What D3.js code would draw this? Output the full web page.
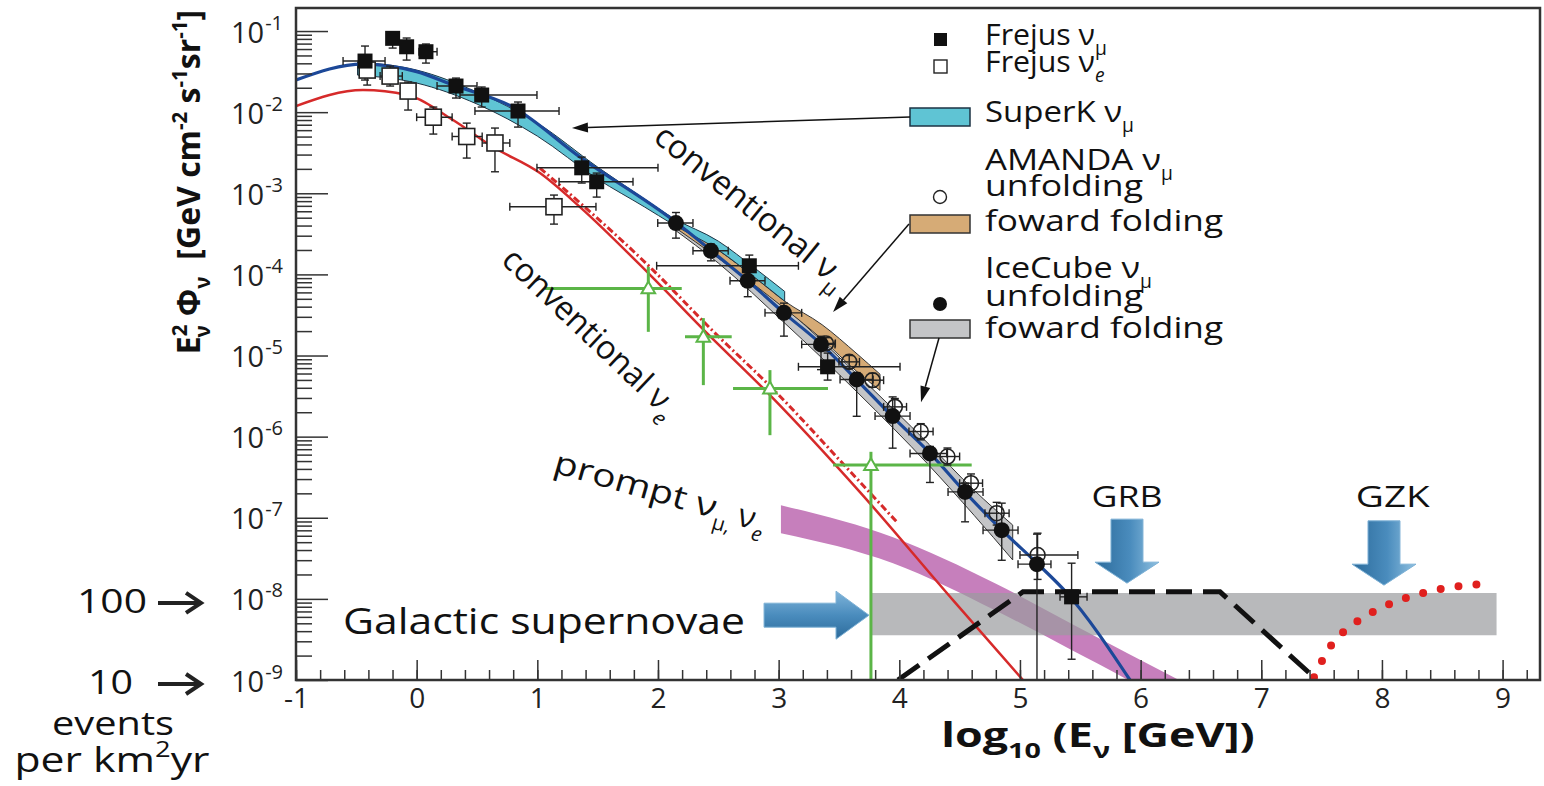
<!DOCTYPE html>
<html>
<head>
<meta charset="utf-8">
<script src="https://cdn.jsdelivr.net/npm/d3@7"></script>
<style>
body { margin: 0; background: #fff; }
svg { font-family: "Open Sans", "Noto Sans", sans-serif; }
</style>
</head>
<body>
<svg id="chart" width="1544" height="786"></svg>
<script>
// all values are log10(E/GeV) and log10(E^2 flux)

var xTicks = [-1, 0, 1, 2, 3, 4, 5, 6, 7, 8, 9];
var yTicks = [-9, -8, -7, -6, -5, -4, -3, -2, -1];

// conventional nu_mu (blue line)
var numuE = [-1, -0.445, 0.0, 0.301, 0.798, 1.354, 2.124, 2.456, 2.738, 3.036, 3.343, 3.649, 3.948, 4.254, 4.545, 4.851, 5.141, 5.390, 5.912];
var numuF = [-1.604, -1.407, -1.500, -1.666, -1.937, -2.554, -3.330, -3.725, -4.070, -4.465, -4.847, -5.303, -5.760, -6.203, -6.684, -7.153, -7.560, -7.930, -9.0];

// conventional nu_e (red line)
var nueE = [-1, -0.445, -0.08, 0.301, 0.633, 1.022, 1.354, 1.934, 2.406, 2.928, 3.674, 4.445, 5.025];
var nueF = [-1.925, -1.727, -1.789, -2.097, -2.430, -2.751, -3.170, -4.006, -4.724, -5.488, -6.684, -8.016, -9.0];

// red dash-dot companion line
var nueAltE = [1.022, 1.959, 2.456, 2.953, 3.567, 3.989];
var nueAltF = [-2.689, -3.947, -4.699, -5.414, -6.388, -7.067];

// bands: [logE, low, high]
var superK = [[-0.49, -1.543, -1.382], [0.0, -1.641, -1.481], [0.5, -1.900, -1.752], [1.0, -2.295, -2.134],
  [1.5, -2.825, -2.677], [1.89, -3.170, -3.072], [2.12, -3.380, -3.300], [2.5, -3.700, -3.590],
  [2.8, -4.035, -3.920], [3.05, -4.330, -4.210]];
var amandaFF = [[2.12, -3.40, -3.33], [2.5, -3.80, -3.70], [2.8, -4.13, -4.035], [3.05, -4.42, -4.33],
  [3.36, -4.80, -4.62], [3.65, -5.20, -4.98], [3.84, -5.43, -5.23]];
var icecubeFF = [[2.12, -3.43, -3.33], [2.5, -3.86, -3.70], [3.05, -4.60, -4.40], [3.65, -5.45, -5.23],
  [4.25, -6.36, -6.10], [4.62, -6.97, -6.66], [4.94, -7.52, -7.09]];
var prompt = [[3.019, -7.190, -6.845], [3.948, -7.560, -7.239], [4.793, -8.140, -7.806],
  [5.431, -8.633, -8.309], [5.895, -9.0, -8.672], [6.318, -9.4, -9.0]];
var galactic = [[3.77, -8.447, -7.926], [8.95, -8.447, -7.926]];

// points: [logE, logF, Elow, Ehigh, Flow, Fhigh]
var frejusMu = [[-0.428, -1.370, -0.610, -0.262, -1.604, -1.185], [-0.199, -1.090, null, null, -1.210, -1.012],
  [-0.083, -1.194, null, null, -1.358, -1.086], [0.077, -1.255, 0.019, 0.169, -1.395, -1.160],
  [0.326, -1.678, 0.169, 0.500, -1.826, -1.580], [0.539, -1.789, 0.359, 0.997, -1.937, -1.690],
  [0.840, -1.986, 0.483, 1.180, -2.184, -1.875], [1.368, -2.686, 0.997, 2.0, -2.874, -2.554],
  [1.492, -2.858, 1.180, 1.793, -3.047, -2.751], [2.757, -3.894, 1.989, 3.164, -4.033, -3.762],
  [3.406, -5.139, 3.164, 4.006, -5.303, -4.970], [5.428, -7.975, 5.332, 5.556, -8.744, -7.560]];
var frejusE = [[-0.410, -1.481, null, null, -1.666, -1.357], [-0.220, -1.555, -0.303, -0.119, -1.678, -1.432],
  [-0.071, -1.740, null, null, -1.974, -1.629], [0.138, -2.062, 0.0, 0.294, -2.270, -1.937],
  [0.415, -2.300, 0.294, 0.543, -2.566, -2.135], [0.649, -2.380, 0.543, 0.772, -2.735, -2.196],
  [1.138, -3.166, 0.772, 1.486, -3.380, -3.022]];
var amandaUnf = [[3.392, -4.851, 3.32, 3.47, -4.93, -4.78], [3.585, -5.078, 3.50, 3.67, -5.16, -5.00],
  [3.778, -5.304, 3.69, 3.87, -5.39, -5.22], [3.963, -5.633, 3.87, 4.06, -5.74, -5.53],
  [4.178, -5.937, 4.08, 4.28, -6.04, -5.84], [4.399, -6.245, 4.30, 4.50, -6.35, -6.14],
  [4.594, -6.574, 4.50, 4.69, -6.69, -6.46], [4.807, -6.944, 4.71, 4.91, -7.09, -6.81],
  [5.146, -7.460, 5.00, 5.48, -7.76, -7.19]];
var icecubeUnf = [[2.149, -3.367, 1.998, 2.290, -3.553, -3.237], [2.439, -3.709, 2.290, 2.582, -3.833, -3.627],
  [2.744, -4.079, 2.597, 2.887, -4.275, -4.008], [3.044, -4.474, 2.887, 3.191, -4.761, -4.354],
  [3.351, -4.863, 3.191, 3.467, -5.174, -4.763], [3.647, -5.295, 3.509, 3.783, -5.749, -5.211],
  [3.945, -5.747, 3.799, 4.089, -6.142, -5.510], [4.254, -6.207, 4.089, 4.393, -6.565, -6.121],
  [4.545, -6.681, 4.404, 4.694, -7.050, -6.573], [4.849, -7.153, 4.694, 4.984, -7.524, -6.820],
  [5.141, -7.572, 4.984, 5.257, -9.0, -7.202]];
var greenNue = [[1.920, -4.173, 1.064, 2.197, -4.708, -3.906], [2.376, -4.769, 2.224, 2.611, -5.365, -4.539],
  [2.928, -5.406, 2.622, 3.409, -5.982, -5.180], [3.765, -6.351, 3.451, 4.600, -9.0, -6.187]];

// GRB (black dashed) and GZK (red dotted)
var grbE = [3.989, 5.025, 6.658, 7.437];
var grbF = [-9.0, -7.913, -7.913, -8.966];
var gzkE = [7.437, 7.570, 7.775, 8.029, 8.324, 8.639, 8.805];
var gzkF = [-8.966, -8.592, -8.300, -8.086, -7.933, -7.843, -7.822];

var svg = d3.select("#chart");
var x = d3.scaleLinear().domain([-1, 9.31]).range([296, 1540]);
var y = d3.scaleLinear().domain([-9, -0.716]).range([680, 8]);

var defs = svg.append("defs");
defs.append("clipPath").attr("id", "plot")
  .append("rect").attr("x", 296).attr("y", 8).attr("width", 1244).attr("height", 672);
var gv = defs.append("linearGradient").attr("id", "gv").attr("x1", 0).attr("x2", 1).attr("y1", 0).attr("y2", 0);
gv.append("stop").attr("offset", "0").attr("stop-color", "#2c6b9b");
gv.append("stop").attr("offset", "0.55").attr("stop-color", "#4a8cbd");
gv.append("stop").attr("offset", "1").attr("stop-color", "#8fc0e0");
var gh = defs.append("linearGradient").attr("id", "gh").attr("x1", 0).attr("x2", 0).attr("y1", 0).attr("y2", 1);
gh.append("stop").attr("offset", "0").attr("stop-color", "#7fb4da");
gh.append("stop").attr("offset", "0.5").attr("stop-color", "#4a8cbd");
gh.append("stop").attr("offset", "1").attr("stop-color", "#2c6b9b");

var plot = svg.append("g").attr("clip-path", "url(#plot)");

var area = d3.area().x(function(d) { return x(d[0]); })
  .y0(function(d) { return y(d[1]); }).y1(function(d) { return y(d[2]); })
  .curve(d3.curveMonotoneX);
var line = d3.line().x(function(d) { return x(d[0]); }).y(function(d) { return y(d[1]); })
  .curve(d3.curveMonotoneX);

// prompt band then galactic supernovae band
plot.append("path").attr("d", area(prompt)).attr("fill", "#c67fbc");
plot.append("path").attr("d", area.curve(d3.curveLinear)(galactic)).attr("fill", "#9a9b9e").attr("opacity", 0.7);
area.curve(d3.curveMonotoneX);

// measured bands
plot.append("path").attr("d", area(icecubeFF)).attr("fill", "#c4c5c7").attr("stroke", "#333").attr("stroke-width", 1);
plot.append("path").attr("d", area(amandaFF)).attr("fill", "#d6ab76").attr("stroke", "#333").attr("stroke-width", 1);
plot.append("path").attr("d", area(superK)).attr("fill", "#5fc4d4").attr("stroke", "#1d3344").attr("stroke-width", 1);

// model curves
plot.append("path").attr("d", line(d3.zip(nueAltE, nueAltF))).attr("fill", "none")
  .attr("stroke", "#d62a2a").attr("stroke-width", 3).attr("stroke-dasharray", "7,3,2,3");
plot.append("path").attr("d", line(d3.zip(nueE, nueF))).attr("fill", "none")
  .attr("stroke", "#d62a2a").attr("stroke-width", 2.5);
plot.append("path").attr("d", line(d3.zip(numuE, numuF))).attr("fill", "none")
  .attr("stroke", "#1c4898").attr("stroke-width", 3.2);

plot.append("path").attr("d", d3.line().x(function(d) { return x(d[0]); }).y(function(d) { return y(d[1]); })(d3.zip(grbE, grbF)))
  .attr("fill", "none").attr("stroke", "#111").attr("stroke-width", 5).attr("stroke-dasharray", "26,11");
plot.append("path").attr("d", line(d3.zip(gzkE, gzkF))).attr("fill", "none")
  .attr("stroke", "#e0201e").attr("stroke-width", 8).attr("stroke-linecap", "round").attr("stroke-dasharray", "0,18");

// error bars
function errBars(g, data, color, width, cap) {
  data.forEach(function(d) {
    if (d[2] != null) {
      g.append("line").attr("x1", x(d[2])).attr("x2", x(d[3])).attr("y1", y(d[1])).attr("y2", y(d[1]))
        .attr("stroke", color).attr("stroke-width", width);
      [d[2], d[3]].forEach(function(v) {
        g.append("line").attr("x1", x(v)).attr("x2", x(v)).attr("y1", y(d[1]) - cap).attr("y2", y(d[1]) + cap)
          .attr("stroke", color).attr("stroke-width", width);
      });
    }
    if (d[4] != null) {
      g.append("line").attr("x1", x(d[0])).attr("x2", x(d[0])).attr("y1", y(d[4])).attr("y2", y(d[5]))
        .attr("stroke", color).attr("stroke-width", width);
      [d[4], d[5]].forEach(function(v) {
        g.append("line").attr("x1", x(d[0]) - cap).attr("x2", x(d[0]) + cap).attr("y1", y(v)).attr("y2", y(v))
          .attr("stroke", color).attr("stroke-width", width);
      });
    }
  });
}
var eb = plot.append("g");
errBars(eb, greenNue, "#5bb547", 3, 0);
errBars(eb, frejusE, "#222", 1.4, 4);
errBars(eb, frejusMu, "#222", 1.4, 4);
errBars(eb, amandaUnf, "#222", 1.4, 4);
errBars(eb, icecubeUnf, "#222", 1.4, 4);

var sym = d3.symbol();
plot.selectAll(".tri").data(greenNue).enter().append("path")
  .attr("d", sym.type(d3.symbolTriangle).size(80)())
  .attr("transform", function(d) { return "translate(" + x(d[0]) + "," + (y(d[1]) + 1) + ")"; })
  .attr("fill", "#fff").attr("stroke", "#5bb547").attr("stroke-width", 2);
plot.selectAll(".fe").data(frejusE).enter().append("rect")
  .attr("x", function(d) { return x(d[0]) - 8; }).attr("y", function(d) { return y(d[1]) - 8; })
  .attr("width", 16).attr("height", 16).attr("fill", "#fff").attr("stroke", "#222").attr("stroke-width", 1.6);
plot.selectAll(".fm").data(frejusMu).enter().append("rect")
  .attr("x", function(d) { return x(d[0]) - 7.5; }).attr("y", function(d) { return y(d[1]) - 7.5; })
  .attr("width", 15).attr("height", 15).attr("fill", "#111");
plot.selectAll(".au").data(amandaUnf).enter().append("circle")
  .attr("cx", function(d) { return x(d[0]); }).attr("cy", function(d) { return y(d[1]); })
  .attr("r", 7.5).attr("fill", "none").attr("stroke", "#222").attr("stroke-width", 1.6);
plot.selectAll(".iu").data(icecubeUnf).enter().append("circle")
  .attr("cx", function(d) { return x(d[0]); }).attr("cy", function(d) { return y(d[1]); })
  .attr("r", 8).attr("fill", "#111");

// frame and axes
svg.append("rect").attr("x", 296).attr("y", 8).attr("width", 1244).attr("height", 672)
  .attr("fill", "none").attr("stroke", "#333").attr("stroke-width", 2.5);

var yMinor = [];
yTicks.slice(0, 8).forEach(function(n) { for (var k = 2; k < 10; k++) yMinor.push(n + Math.log10(k)); });
var xMinor = d3.range(0, 52).map(function(i) { return -1 + i * 0.2; }).filter(function(v) { return v < 9.3; });

var axY = svg.append("g").attr("transform", "translate(296,0)")
  .call(d3.axisLeft(y).tickValues(yTicks).tickSizeInner(-32).tickSizeOuter(0).tickPadding(13));
svg.append("g").attr("transform", "translate(296,0)")
  .call(d3.axisLeft(y).tickValues(yMinor).tickSizeInner(-16).tickSizeOuter(0).tickFormat(""));
var axX = svg.append("g").attr("transform", "translate(0,680)")
  .call(d3.axisBottom(x).tickValues(xTicks).tickSizeInner(-20).tickSizeOuter(0).tickPadding(8));
svg.append("g").attr("transform", "translate(0,680)")
  .call(d3.axisBottom(x).tickValues(xMinor).tickSizeInner(-10).tickSizeOuter(0).tickFormat(""));
svg.selectAll(".domain").remove();
svg.selectAll(".tick line").attr("stroke", "#333").attr("stroke-width", 1.5);

axY.selectAll("text").each(function(d) {
  var t = d3.select(this).attr("dy", 11).attr("font-size", 29).attr("fill", "#222")
    .attr("font-family", "'Open Sans', sans-serif").text(null);
  t.append("tspan").text("10");
  t.append("tspan").attr("dy", -13).attr("font-size", 20).attr("dx", 1).text(String(d));
});
axX.selectAll("text").attr("font-size", 28).attr("fill", "#222").attr("font-family", "'Open Sans', sans-serif")
  .text(function(d) { return String(d); });

// rich text helper: parts are [text, "n"|"sup"|"sub", dx, style, length]
function rich(t, parts, base) {
  var cur = 0;
  parts.forEach(function(p) {
    var off = p[1] === "sup" ? -base * 0.42 : p[1] === "sub" ? base * 0.32 : 0;
    var s = t.append("tspan").attr("dy", off - cur).text(p[0]);
    if (p[1] !== "n") s.attr("font-size", base * 0.64);
    if (p[2]) s.attr("dx", p[2]);
    if (p[3]) s.attr("font-style", p[3]);
    if (p[4]) s.attr("textLength", p[4]).attr("lengthAdjust", "spacingAndGlyphs");
    cur = off;
  });
  return t;
}

// axis titles
rich(svg.append("text").attr("transform", "translate(200,182) rotate(-90)").attr("text-anchor", "middle")
  .attr("font-size", 32).attr("font-weight", "bold").attr("fill", "#111"),
  [["E", "n"], ["2", "sup"], ["ν", "sub", -13], ["Φ", "n", 9], ["ν", "sub"], ["[GeV cm", "n", 17], ["-2", "sup"],
   [" s", "n"], ["-1", "sup"], ["sr", "n"], ["-1", "sup"], ["]", "n"]], 32);
rich(svg.append("text").attr("transform", "translate(1098,747) scale(1.32,1)").attr("text-anchor", "middle")
  .attr("font-size", 34).attr("font-weight", "bold").attr("fill", "#111"),
  [["log", "n"], ["10", "sub"], [" (E", "n"], ["ν", "sub"], [" [GeV])", "n"]], 34);

// left annotations
function leftArrow(yy) {
  svg.append("line").attr("x1", 158).attr("x2", 199).attr("y1", yy).attr("y2", yy)
    .attr("stroke", "#222").attr("stroke-width", 4);
  svg.append("path").attr("d", "M186," + (yy - 10) + " L201," + yy + " L186," + (yy + 10))
    .attr("fill", "none").attr("stroke", "#222").attr("stroke-width", 4).attr("stroke-linejoin", "miter");
}
leftArrow(y(-8) + 4);
leftArrow(y(-9) + 4);
svg.append("text").attr("x", 147).attr("y", y(-8) + 14).attr("text-anchor", "end").attr("font-size", 33)
  .attr("fill", "#111").attr("textLength", 70).attr("lengthAdjust", "spacingAndGlyphs").text("100");
svg.append("text").attr("x", 133).attr("y", y(-9) + 14).attr("text-anchor", "end").attr("font-size", 33)
  .attr("fill", "#111").attr("textLength", 45).attr("lengthAdjust", "spacingAndGlyphs").text("10");
svg.append("text").attr("x", 113).attr("y", 735).attr("text-anchor", "middle").attr("font-size", 33)
  .attr("fill", "#111").attr("textLength", 122).attr("lengthAdjust", "spacingAndGlyphs").text("events");
rich(svg.append("text").attr("transform", "translate(112,772) scale(1.22,1)").attr("text-anchor", "middle")
  .attr("font-size", 35).attr("fill", "#111"), [["per km", "n"], ["2", "sup"], ["yr", "n"]], 35);

// legend
var lx = 985;
svg.append("rect").attr("x", 934).attr("y", 33).attr("width", 13).attr("height", 13).attr("fill", "#111");
svg.append("rect").attr("x", 934).attr("y", 60).attr("width", 13).attr("height", 13)
  .attr("fill", "#fff").attr("stroke", "#222").attr("stroke-width", 1.4);
svg.append("rect").attr("x", 910).attr("y", 108).attr("width", 60).attr("height", 18)
  .attr("fill", "#5fc4d4").attr("stroke", "#1d3344").attr("stroke-width", 1.5);
svg.append("circle").attr("cx", 940).attr("cy", 197).attr("r", 6.5).attr("fill", "#fff").attr("stroke", "#222").attr("stroke-width", 1.4);
svg.append("rect").attr("x", 910).attr("y", 215).attr("width", 60).attr("height", 18)
  .attr("fill", "#d6ab76").attr("stroke", "#333").attr("stroke-width", 1.5);
svg.append("circle").attr("cx", 940).attr("cy", 304).attr("r", 7).attr("fill", "#111");
svg.append("rect").attr("x", 910).attr("y", 320).attr("width", 60).attr("height", 18)
  .attr("fill", "#c4c5c7").attr("stroke", "#333").attr("stroke-width", 1.5);

var legendText = [
  [45, [["Frejus ν", "n", 0, null, 110], ["μ", "sub"]]],
  [72, [["Frejus ν", "n", 0, null, 110], ["e", "sub", 0, "italic"]]],
  [122, [["SuperK ν", "n", 0, null, 137], ["μ", "sub"]]],
  [170, [["AMANDA ν", "n", 0, null, 176], ["μ", "sub"]]],
  [196, [["unfolding", "n", 0, null, 158]]],
  [231, [["foward folding", "n", 0, null, 238]]],
  [278, [["IceCube ν", "n", 0, null, 155], ["μ", "sub"]]],
  [306, [["unfolding", "n", 0, null, 158]]],
  [338, [["foward folding", "n", 0, null, 238]]]
];
legendText.forEach(function(l) {
  rich(svg.append("text").attr("x", lx).attr("y", l[0]).attr("font-size", 30).attr("fill", "#111"), l[1], 30);
});

// pointer arrows from legend boxes to the bands
function pointer(x0, y0, e, f) {
  var x1 = x(e), y1 = y(f);
  var a = Math.atan2(y1 - y0, x1 - x0), L = 16, w = 5;
  var bx = x1 - L * Math.cos(a), by = y1 - L * Math.sin(a);
  svg.append("line").attr("x1", x0).attr("y1", y0).attr("x2", bx).attr("y2", by)
    .attr("stroke", "#111").attr("stroke-width", 1.5);
  svg.append("path").attr("d", "M" + x1 + "," + y1 + " L" + (bx + w * Math.sin(a)) + "," + (by - w * Math.cos(a)) +
    " L" + (bx - w * Math.sin(a)) + "," + (by + w * Math.cos(a)) + " Z").attr("fill", "#111");
}
pointer(910, 117, 1.287, -2.196);
pointer(909, 224, 3.451, -4.465);
pointer(939, 338, 4.180, -5.575);

// rotated labels
rich(svg.append("text").attr("transform", "translate(652,140) rotate(39)").attr("font-size", 33).attr("fill", "#111"),
  [["conventional ν", "n", 0, null, 225], ["μ", "sub"]], 33);
rich(svg.append("text").attr("transform", "translate(500,262) rotate(43.5)").attr("font-size", 33).attr("fill", "#111"),
  [["conventional ν", "n", 0, null, 218], ["e", "sub", 0, "italic"]], 33);
rich(svg.append("text").attr("transform", "translate(552,472) rotate(16)").attr("font-size", 32).attr("fill", "#111"),
  [["prompt ν", "n", 0, null, 168], ["μ, ", "sub"], ["ν", "n"], ["e", "sub", 0, "italic"]], 32);

// blue arrows: GRB, GZK (pointing down) and galactic supernovae (pointing right)
function downArrow(e, fTip, fTop) {
  var tx = x(e), ty = y(fTip), top = y(fTop);
  svg.append("path").attr("d", "M" + (tx - 16) + "," + top + " L" + (tx + 16) + "," + top + " L" + (tx + 16) + "," + (ty - 21) +
    " L" + (tx + 32) + "," + (ty - 21) + " L" + tx + "," + ty + " L" + (tx - 32) + "," + (ty - 21) + " L" + (tx - 16) + "," + (ty - 21) + " Z")
    .attr("fill", "url(#gv)").attr("stroke", "#7fb2d6").attr("stroke-width", 1);
}
downArrow(5.887, -7.806, -7.017);
downArrow(8.017, -7.831, -7.038);
(function() {
  var tx = x(3.749), ty = y(-8.201), tail = x(2.879);
  svg.append("path").attr("d", "M" + tail + "," + (ty - 12) + " L" + (tx - 33) + "," + (ty - 12) + " L" + (tx - 33) + "," + (ty - 24) +
    " L" + tx + "," + ty + " L" + (tx - 33) + "," + (ty + 24) + " L" + (tx - 33) + "," + (ty + 12) + " L" + tail + "," + (ty + 12) + " Z")
    .attr("fill", "url(#gh)").attr("stroke", "#7fb2d6").attr("stroke-width", 1);
})();

svg.append("text").attr("x", x(5.887)).attr("y", 507).attr("text-anchor", "middle").attr("font-size", 30)
  .attr("fill", "#111").attr("textLength", 71).attr("lengthAdjust", "spacingAndGlyphs").text("GRB");
svg.append("text").attr("x", x(8.09)).attr("y", 507).attr("text-anchor", "middle").attr("font-size", 30)
  .attr("fill", "#111").attr("textLength", 74).attr("lengthAdjust", "spacingAndGlyphs").text("GZK");
svg.append("text").attr("x", 343).attr("y", 634).attr("font-size", 37)
  .attr("fill", "#111").attr("textLength", 402).attr("lengthAdjust", "spacingAndGlyphs").text("Galactic supernovae");
</script>
</body>
</html>
